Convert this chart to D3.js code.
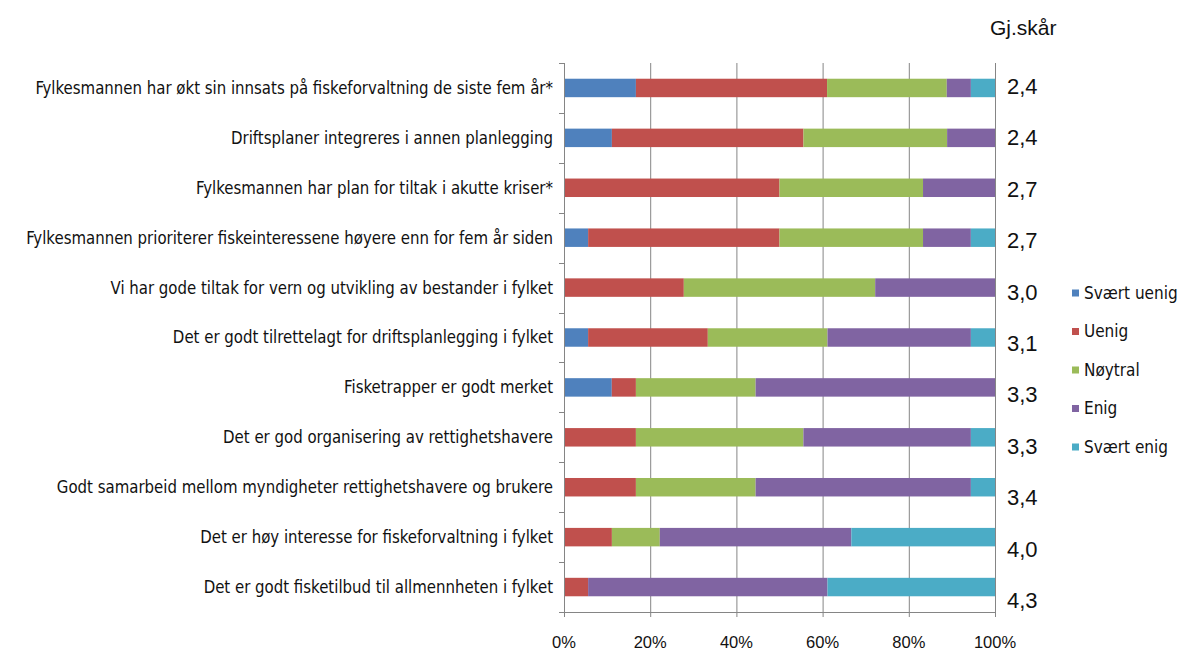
<!DOCTYPE html>
<html>
<head>
<meta charset="utf-8">
<script src="https://cdn.jsdelivr.net/npm/d3@7"></script>
<style>
  html, body { margin: 0; padding: 0; background: #fff; }
  svg { display: block; }
  .lab { font-family: "Liberation Sans Narrow", "DejaVu Sans Condensed", "Liberation Sans", sans-serif; fill: #111; }
  .num { font-family: "Liberation Sans", "DejaVu Sans", sans-serif; fill: #111; }
</style>
</head>
<body>
<svg id="chart" width="1177" height="652"></svg>
<script>
const categories = [
  "Fylkesmannen har økt sin innsats på fiskeforvaltning de siste fem år*",
  "Driftsplaner integreres i annen planlegging",
  "Fylkesmannen har plan for tiltak i akutte kriser*",
  "Fylkesmannen prioriterer fiskeinteressene høyere enn for fem år siden",
  "Vi har gode tiltak for vern og utvikling av bestander i fylket",
  "Det er godt tilrettelagt for driftsplanlegging i fylket",
  "Fisketrapper er godt merket",
  "Det er god organisering av rettighetshavere",
  "Godt samarbeid mellom myndigheter rettighetshavere og brukere",
  "Det er høy interesse for fiskeforvaltning i fylket",
  "Det er godt fisketilbud til allmennheten i fylket"
];
const seriesNames = ["Svært uenig", "Uenig", "Nøytral", "Enig", "Svært enig"];
const svaertUenig = [16.7, 11.1, 0, 5.6, 0, 5.6, 11.1, 0, 0, 0, 0];
const uenig       = [44.4, 44.4, 50.0, 44.4, 27.8, 27.8, 5.6, 16.7, 16.7, 11.1, 5.6];
const noytral     = [27.8, 33.3, 33.3, 33.3, 44.4, 27.8, 27.8, 38.9, 27.8, 11.1, 0];
const enig        = [5.6, 11.1, 16.7, 11.1, 27.8, 33.3, 55.6, 38.9, 50.0, 44.4, 55.6];
const svaertEnig  = [5.6, 0, 0, 5.6, 0, 5.6, 0, 5.6, 5.6, 33.3, 38.9];
const scores      = [2.4, 2.4, 2.7, 2.7, 3.0, 3.1, 3.3, 3.3, 3.4, 4.0, 4.3];
const xTicks      = [0, 0.2, 0.4, 0.6, 0.8, 1.0];
const scoreTitle  = "Gj.skår";

const colors = ["#4F81BD", "#C0504D", "#9BBB59", "#8064A2", "#4BACC6"];
const seriesValues = [svaertUenig, uenig, noytral, enig, svaertEnig];

const rows = categories.map((c, i) => {
  const r = { cat: c };
  seriesNames.forEach((s, k) => r[s] = seriesValues[k][i]);
  return r;
});

const svg = d3.select("#chart");
const pLeft = 564, pRight = 995, pTop = 63, pBottom = 612;

const x = d3.scaleLinear().domain([0, 1]).range([pLeft, pRight]);
const y = d3.scaleBand().domain(categories).range([pTop, pBottom]).paddingInner(0.63).paddingOuter(0.315);

const stack = d3.stack().keys(seriesNames).offset(d3.stackOffsetExpand);
const stacked = stack(rows);

const gridColor = "#858585";

// gridlines
svg.append("g").selectAll("line").data(xTicks.slice(1)).join("line")
  .attr("x1", d => x(d) + 0.5).attr("x2", d => x(d) + 0.5)
  .attr("y1", pTop).attr("y2", pBottom)
  .attr("stroke", gridColor).attr("stroke-width", 1);

// bars
svg.append("g").selectAll("g").data(stacked).join("g")
  .attr("fill", (d, i) => colors[i])
  .selectAll("rect").data(d => d).join("rect")
  .attr("x", d => x(d[0]))
  .attr("width", d => Math.max(0, x(d[1]) - x(d[0])))
  .attr("y", d => y(d.data.cat))
  .attr("height", y.bandwidth());

// left axis line & ticks at band boundaries
const boundaries = categories.map(c => y(c) - y.step() * y.paddingOuter()).concat([pBottom]);
const gl = svg.append("g");
gl.append("line").attr("x1", pLeft + 0.5).attr("x2", pLeft + 0.5).attr("y1", pTop).attr("y2", pBottom + 5)
  .attr("stroke", gridColor);
gl.selectAll("line.t").data(boundaries).join("line").attr("class", "t")
  .attr("x1", pLeft - 5).attr("x2", pLeft).attr("y1", d => Math.round(d) + 0.5).attr("y2", d => Math.round(d) + 0.5)
  .attr("stroke", gridColor);

// bottom axis
const gb = svg.append("g");
gb.append("line").attr("x1", pLeft - 5).attr("x2", pRight + 0.5).attr("y1", pBottom + 0.5).attr("y2", pBottom + 0.5)
  .attr("stroke", gridColor);
gb.selectAll("line.t").data(xTicks).join("line").attr("class", "t")
  .attr("x1", d => x(d) + 0.5).attr("x2", d => x(d) + 0.5).attr("y1", pBottom).attr("y2", pBottom + 5)
  .attr("stroke", gridColor);
gb.selectAll("text").data(xTicks).join("text").attr("class", "num")
  .attr("x", d => x(d)).attr("y", 648)
  .attr("text-anchor", "middle").attr("font-size", 16.5)
  .text(d => d3.format(".0%")(d));

// category labels
const labG = svg.append("g");
const labs = labG.selectAll("text").data(categories).join("text").attr("class", "lab")
  .attr("text-anchor", "end").attr("font-size", 17)
  .attr("dy", "0.35em")
  .text(d => d);
let maxW = 0;
labs.each(function() { maxW = Math.max(maxW, this.getComputedTextLength()); });
const targetW = 527;
const sx = targetW / maxW;
labs.attr("transform", d => `translate(553,${y(d) + y.bandwidth() / 2}) scale(${sx},1)`);

// scores
const ys = d3.scalePoint().domain(categories).range([86, 600]);
svg.append("g").selectAll("text").data(scores).join("text").attr("class", "num")
  .attr("x", 1007).attr("y", (d, i) => ys(categories[i]))
  .attr("dy", "0.36em").attr("font-size", 22)
  .text(d => d3.format(".1f")(d).replace(".", ","));
svg.append("text").attr("class", "num").attr("x", 990).attr("y", 35)
  .attr("font-size", 21).text(scoreTitle);

// legend
const ly = d3.scalePoint().domain(seriesNames).range([293, 447]);
const lg = svg.append("g").selectAll("g").data(seriesNames).join("g")
  .attr("transform", d => `translate(1072,${ly(d)})`);
lg.append("rect").attr("x", 0).attr("y", -3.5).attr("width", 7).attr("height", 7)
  .attr("fill", (d, i) => colors[i]);
lg.append("text").attr("class", "lab").attr("x", 12).attr("dy", "0.35em")
  .attr("font-size", 17).text(d => d);
</script>
</body>
</html>
